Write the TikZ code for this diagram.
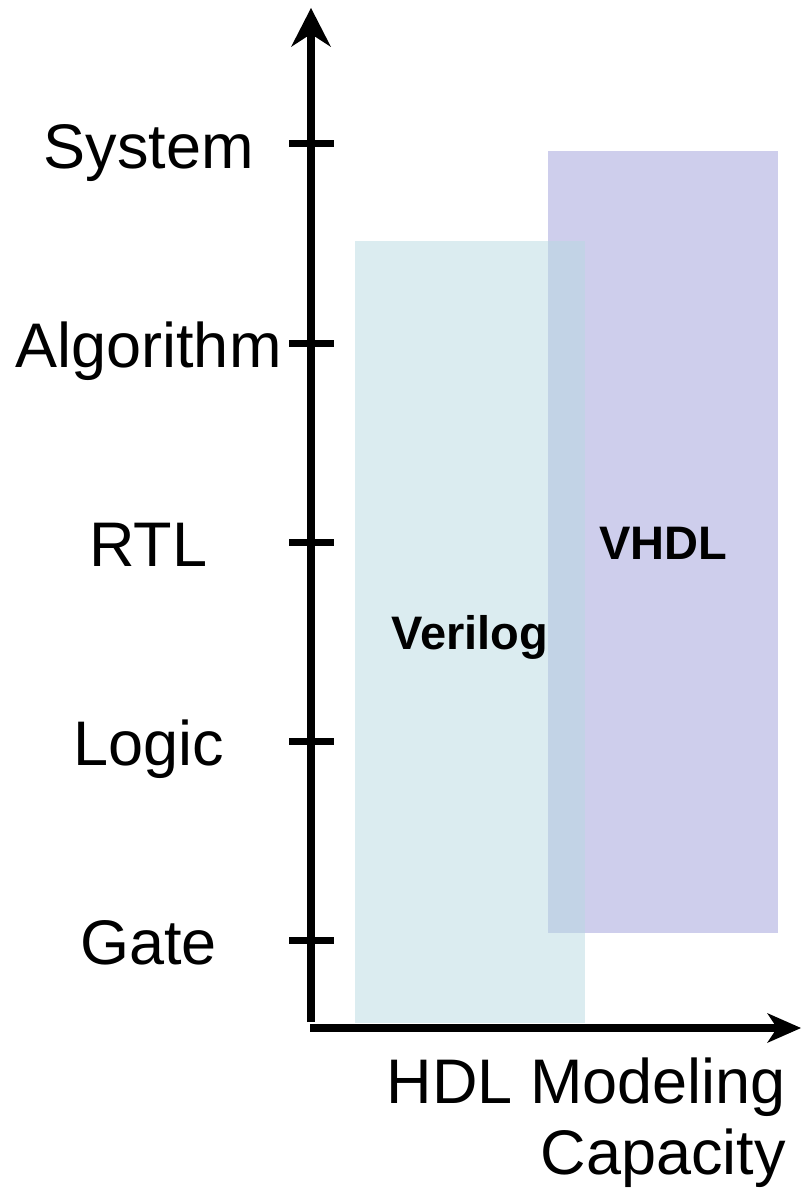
\documentclass[tikz,border=0pt]{standalone}
\usepackage{fontspec}
\setmainfont{Liberation Sans}
\usetikzlibrary{arrows.meta}
\definecolor{verilogc}{RGB}{183,217,225}
\definecolor{vhdlc}{RGB}{206,206,236}
\tikzset{
  axis/.style={line width=8pt},
  tick/.style={line width=7pt},
  level/.style={inner sep=0pt, font=\fontsize{63}{72}\selectfont, text height=45pt, text depth=0pt, anchor=center},
  hdlbox/.style={draw=none, inner sep=0pt, font=\fontsize{47}{54}\selectfont\bfseries, text height=34pt, text depth=0pt},
}
\begin{document}
\begin{tikzpicture}[x=1pt,y=-1pt]
\useasboundingbox (0,0) rectangle (801,1190);
% boxes
\node[hdlbox, fill=vhdlc, minimum width=230pt, minimum height=782pt] (vhdl) at (663,542) {VHDL};
\node[hdlbox, fill=verilogc, fill opacity=0.5, text opacity=1, minimum width=230pt, minimum height=782pt] (verilog) at (470,632) {Verilog};
% axes
\coordinate (ybot) at (311,1022);
\coordinate (ytop) at (311,8);
\coordinate (xleft) at (310,1028);
\coordinate (xright) at (801,1028);
\draw[axis, -{Stealth[length=39pt,width=40pt,inset=13pt,line width=0pt]}] (ybot) -- (ytop);
\draw[axis, -{Stealth[length=34pt,width=30pt,inset=10pt,line width=0pt]}] (xleft) -- (xright);
% ticks and labels
\foreach \name/\lab/\yy in {sys/System/144, alg/Algorithm/343, rtl/RTL/542, logic/Logic/741, gate/Gate/940}{
  \coordinate (t\name l) at (289,\yy);
  \coordinate (t\name r) at (334,\yy);
  \draw[tick] (t\name l) -- (t\name r);
  \node[level] (\name) at (148.5,\yy+2) {\lab};
}
\node[inner sep=0pt, align=right, anchor=base east, font=\fontsize{63}{71}\selectfont] (xlabel) at (786,1174) {HDL Modeling\\Capacity};
\end{tikzpicture}
\end{document}
